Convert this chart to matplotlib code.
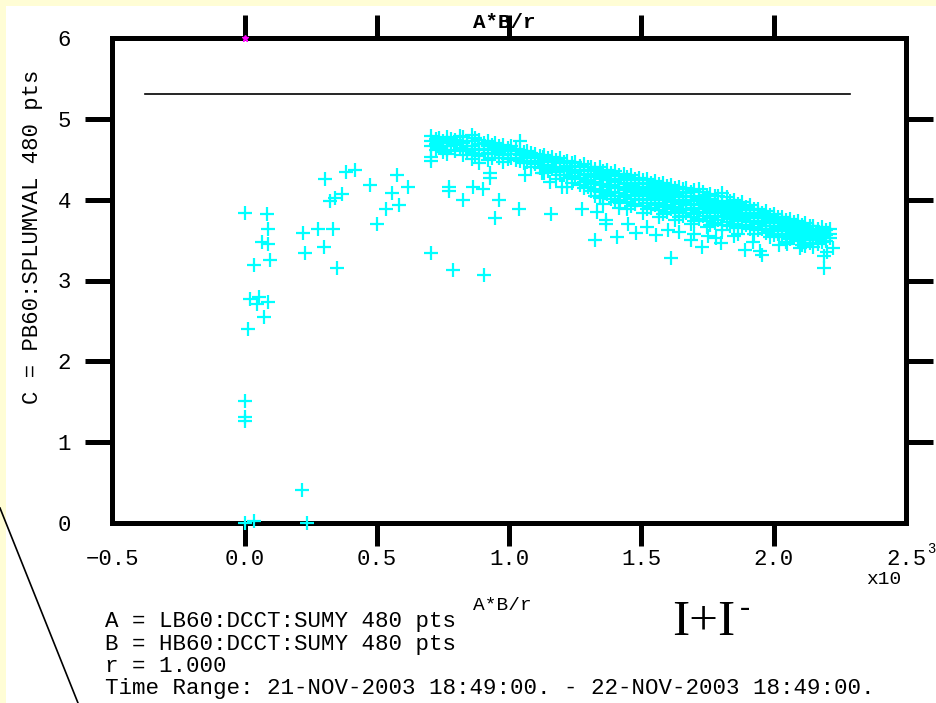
import matplotlib
matplotlib.use("Agg")
import matplotlib.pyplot as plt
from matplotlib.lines import Line2D
from matplotlib.patches import Rectangle

# ---------------- data ----------------
# scattered points (x = A*B/r in units of 1e3, y = C)
low_x = [0.00, 0.083, 0.089, 0.066, 0.089, 0.034, 0.096, 0.020, 0.054, 0.047,
         0.089, 0.074, 0.011, 0.00, 0.00, 0.00, 0.215, 0.00, 0.036, 0.234,
         0.221, 0.278, 0.332, 0.228, 0.299, 0.347, 0.304, 0.381, 0.417, 0.321,
         0.341, 0.368, 0.472, 0.576, 0.618, 0.555, 0.535, 0.583, 0.500, 0.703,
         0.786, 0.905, 0.772, 0.772, 0.826, 0.864, 0.899, 0.927, 0.927, 0.961,
         0.948, 1.037, 1.059, 1.156, 1.153, 1.201, 1.276, 1.330, 1.365, 1.365,
         1.324, 1.408, 1.481, 1.128, 1.122, 1.229, 1.342, 1.418, 1.554, 1.613,
         1.689, 1.727, 1.890, 1.947, 1.957, 2.189, 2.189, 2.224, 2.186, 1.60,
         1.64, 1.75, 1.80, 1.85, 2.05, 2.10, 2.15, 2.20, 1.45, 1.52, 1.70,
         1.78, 1.92, 2.02, 2.12]
low_y = [3.84, 3.82, 3.64, 3.48, 3.45, 3.19, 3.25, 2.77, 2.80, 2.71,
         2.74, 2.55, 2.40, 1.51, 1.31, 1.26, 0.41, 0.00, 0.02, 0.00,
         3.59, 3.64, 3.64, 3.34, 3.41, 3.16, 4.25, 4.34, 4.37, 3.98,
         4.02, 4.07, 4.18, 4.30, 4.16, 4.08, 3.88, 3.94, 3.70, 3.34,
         3.13, 3.07, 4.16, 4.11, 3.99, 4.16, 4.13, 4.33, 4.27, 3.99,
         3.77, 3.89, 4.30, 3.82, 4.22, 4.16, 3.89, 3.85, 3.75, 3.70,
         3.50, 3.54, 3.59, 4.53, 4.33, 4.37, 4.04, 3.96, 3.56, 3.28,
         3.50, 3.42, 3.38, 3.36, 3.32, 3.15, 3.30, 3.40, 3.52, 3.62,
         3.60, 3.55, 3.47, 3.55, 3.45, 3.40, 3.42, 3.35, 3.70, 3.66, 3.58,
         3.52, 3.48, 3.44, 3.43]

# dense band, read column by column: x -> list of C values
band = {
    0.705: [4.79, 4.72, 4.66, 4.53, 4.48],
    0.722: [4.75, 4.69, 4.61],
    0.735: [4.76, 4.70, 4.64],
    0.751: [4.73, 4.67, 4.59],
    0.765: [4.78, 4.71, 4.62, 4.56],
    0.781: [4.75, 4.66, 4.70],
    0.795: [4.74, 4.68, 4.60],
    0.812: [4.79, 4.71, 4.64],
    0.825: [4.77, 4.70, 4.63, 4.55],
    0.842: [4.73, 4.67, 4.60],
    0.858: [4.80, 4.72, 4.66, 4.58, 4.50],
    0.871: [4.76, 4.63, 4.55],
    0.887: [4.74, 4.69, 4.61, 4.54, 4.45],
    0.903: [4.70, 4.63, 4.57],
    0.918: [4.73, 4.66, 4.58, 4.49],
    0.934: [4.68, 4.61, 4.52],
    0.948: [4.70, 4.64, 4.56],
    0.963: [4.66, 4.59, 4.51],
    0.978: [4.68, 4.62, 4.55, 4.47],
    0.994: [4.64, 4.57, 4.50],
    1.008: [4.66, 4.60, 4.52],
    1.024: [4.63, 4.57, 4.49],
    1.040: [4.72, 4.62, 4.55, 4.48],
    1.055: [4.59, 4.51, 4.45],
    1.068: [4.60, 4.54, 4.47],
    1.083: [4.58, 4.48, 4.41],
    1.098: [4.57, 4.51, 4.44],
    1.115: [4.54, 4.47, 4.39],
    1.130: [4.55, 4.49, 4.42, 4.33],
    1.146: [4.51, 4.43, 4.36],
    1.160: [4.53, 4.46, 4.38],
    1.177: [4.49, 4.41, 4.34, 4.25],
    1.192: [4.52, 4.45, 4.37, 4.30],
    1.206: [4.47, 4.39, 4.31],
    1.220: [4.48, 4.42, 4.35, 4.27, 4.16],
    1.236: [4.45, 4.37, 4.29, 4.21],
    1.250: [4.46, 4.40, 4.33, 4.25],
    1.266: [4.42, 4.35, 4.27, 4.18],
    1.282: [4.44, 4.37, 4.30, 4.22, 4.14],
    1.296: [4.40, 4.32, 4.24, 4.16],
    1.310: [4.41, 4.35, 4.28, 4.20, 4.11],
    1.326: [4.38, 4.30, 4.22, 4.13, 4.05],
    1.342: [4.40, 4.33, 4.26, 4.18, 4.10, 4.02],
    1.356: [4.35, 4.28, 4.20, 4.12, 4.04, 3.95],
    1.370: [4.37, 4.31, 4.24, 4.16, 4.07],
    1.386: [4.33, 4.26, 4.18, 4.09, 4.01],
    1.400: [4.35, 4.29, 4.22, 4.14, 4.05, 3.97],
    1.416: [4.31, 4.24, 4.16, 4.08, 3.99, 3.90],
    1.432: [4.32, 4.26, 4.19, 4.12, 4.03],
    1.446: [4.28, 4.21, 4.14, 4.06, 3.97, 3.88],
    1.460: [4.30, 4.24, 4.17, 4.10, 4.01, 3.92],
    1.476: [4.26, 4.19, 4.12, 4.04, 3.95],
    1.490: [4.27, 4.21, 4.15, 4.07, 3.99],
    1.506: [4.24, 4.16, 4.09, 4.01, 3.92, 3.84],
    1.522: [4.25, 4.19, 4.12, 4.05, 3.96, 3.88],
    1.536: [4.21, 4.14, 4.07, 3.99, 3.90],
    1.550: [4.23, 4.17, 4.10, 4.02, 3.93],
    1.566: [4.19, 4.12, 4.04, 3.96, 3.87, 3.79],
    1.580: [4.21, 4.14, 4.07, 4.00, 3.91, 3.82],
    1.596: [4.17, 4.10, 4.02, 3.94, 3.85],
    1.612: [4.18, 4.12, 4.05, 3.97, 3.89],
    1.626: [4.15, 4.07, 3.99, 3.91, 3.83, 3.75],
    1.640: [4.16, 4.10, 4.03, 3.95, 3.86, 3.78],
    1.656: [4.13, 4.05, 3.97, 3.89, 3.80],
    1.670: [4.14, 4.08, 4.00, 3.93, 3.84],
    1.686: [4.10, 4.03, 3.95, 3.87, 3.78, 3.70],
    1.700: [4.12, 4.05, 3.98, 3.90, 3.82, 3.74],
    1.716: [4.13, 4.01, 3.93, 3.85, 3.76],
    1.732: [4.10, 4.03, 3.96, 3.88, 3.80],
    1.746: [4.06, 3.98, 3.91, 3.83, 3.73, 3.66],
    1.760: [4.07, 4.01, 3.94, 3.86, 3.77, 3.69],
    1.776: [4.04, 3.96, 3.88, 3.80, 3.71],
    1.790: [4.05, 3.98, 3.91, 3.83, 3.75],
    1.806: [4.08, 3.94, 3.86, 3.78, 3.69, 3.62],
    1.822: [4.03, 3.96, 3.89, 3.81, 3.72],
    1.836: [3.98, 3.91, 3.84, 3.76, 3.67],
    1.850: [4.00, 3.93, 3.86, 3.78, 3.70],
    1.866: [3.95, 3.88, 3.81, 3.73, 3.65, 3.58],
    1.880: [3.97, 3.90, 3.83, 3.75, 3.67],
    1.896: [3.91, 3.84, 3.77, 3.69],
    1.912: [3.93, 3.87, 3.80, 3.72, 3.64],
    1.926: [3.88, 3.81, 3.74, 3.66, 3.57],
    1.940: [3.89, 3.83, 3.77, 3.70, 3.62],
    1.956: [3.84, 3.78, 3.71, 3.64],
    1.970: [3.86, 3.80, 3.74, 3.67, 3.59],
    1.986: [3.81, 3.75, 3.68, 3.61, 3.54],
    2.002: [3.82, 3.77, 3.71, 3.64, 3.56],
    2.016: [3.78, 3.72, 3.65, 3.58],
    2.030: [3.79, 3.74, 3.68, 3.61, 3.54],
    2.046: [3.75, 3.69, 3.62, 3.55, 3.48],
    2.060: [3.76, 3.71, 3.65, 3.58, 3.51],
    2.076: [3.72, 3.66, 3.60, 3.53],
    2.092: [3.73, 3.68, 3.62, 3.55, 3.49],
    2.106: [3.69, 3.63, 3.57, 3.50, 3.44],
    2.120: [3.71, 3.65, 3.59, 3.53, 3.46],
    2.136: [3.67, 3.60, 3.54, 3.47],
    2.150: [3.68, 3.62, 3.56, 3.50],
    2.166: [3.64, 3.58, 3.51, 3.45],
    2.182: [3.66, 3.60, 3.54, 3.48],
    2.196: [3.62, 3.56, 3.49],
    2.212: [3.64, 3.58, 3.52],
}

ref_line_x = [-0.377, 2.287]
ref_line_y = [5.31, 5.31]
marker_pt = (0.0, 6.0)

x_ticks = [-0.5, 0.0, 0.5, 1.0, 1.5, 2.0, 2.5]
x_labels = ["\u22120.5", "0.0", "0.5", "1.0", "1.5", "2.0", "2.5"]
x_marks = [0.0, 0.5, 1.0, 1.5, 2.0]
y_ticks = [0, 1, 2, 3, 4, 5, 6]
y_labels = ["0", "1", "2", "3", "4", "5", "6"]
y_marks = [1, 2, 3, 4, 5]

info_lines = ["A = LB60:DCCT:SUMY 480 pts",
              "B = HB60:DCCT:SUMY 480 pts",
              "r = 1.000",
              "Time Range: 21-NOV-2003 18:49:00. - 22-NOV-2003 18:49:00."]

# ---------------- figure ----------------
W, H = 937, 703
fig = plt.figure(figsize=(W / 100, H / 100), dpi=100)
fig.patch.set_facecolor("white")
mono = "Liberation Mono"

def fx(px):
    return px / W

def fy(py):
    return 1 - py / H

# yellow slide border (top and left strips)
yellow = "#FFFDD5"
fig.add_artist(Rectangle((0, fy(6)), 1, 6 / H, transform=fig.transFigure,
                         facecolor=yellow, edgecolor="none", zorder=0))
fig.add_artist(Rectangle((0, 0), 6 / W, 1, transform=fig.transFigure,
                         facecolor=yellow, edgecolor="none", zorder=0))
# diagonal callout line
fig.add_artist(Line2D([fx(0), fx(78)], [fy(508), fy(703)], transform=fig.transFigure,
                      color="black", lw=1.2))

ax = fig.add_axes([fx(112.5), fy(523), fx(906) - fx(112.5), fy(38) - fy(523)])
ax.set_xlim(-0.5, 2.5)
ax.set_ylim(0, 6)

bx, by = [], []
for xv, ys in band.items():
    for yv in ys:
        bx.append(xv)
        by.append(yv)

kw = dict(linestyle="none", marker="+", color="#00FFFF", markersize=9.5,
          markeredgewidth=1.6, clip_on=False, zorder=3)
ax.plot(bx, by, **kw)
ax.plot(low_x, low_y, **kw)
ax.plot([marker_pt[0]], [marker_pt[1]], linestyle="none", marker="*",
        color="magenta", markersize=5, clip_on=False, zorder=4)
ax.plot(ref_line_x, ref_line_y, color="black", lw=1.2, zorder=2)

for sp in ax.spines.values():
    sp.set_linewidth(3.6)

ax.xaxis.remove_overlapping_locs = False
ax.yaxis.remove_overlapping_locs = False
ax.set_xticks(x_ticks)
ax.set_xticklabels(x_labels)
ax.set_yticks(y_ticks)
ax.set_yticklabels(y_labels)
ax.set_xticks(x_marks, minor=True)
ax.set_yticks(y_marks, minor=True)
ax.tick_params(which="major", length=0, labelfontfamily=mono, labelsize=16)
ax.tick_params(axis="x", which="major", pad=19)
ax.tick_params(axis="y", which="major", pad=30)
ax.tick_params(which="minor", direction="out", width=3.6, top=True, right=True,
               bottom=True, left=True)
ax.tick_params(axis="x", which="minor", length=16.5)
ax.tick_params(axis="y", which="minor", length=19.5)

# y label
fig.text(fx(33), fy(237), "C = PB60:SPLUMVAL 480 pts", rotation=90,
         ha="center", va="center", family=mono, fontsize=16)

# top title and x label
fig.text(fx(473), fy(23), "A*B/r", ha="left", va="center", family=mono,
         fontsize=15, fontweight="bold")
fig.text(fx(473), fy(605), "A*B/r", ha="left", va="center", family=mono,
         fontsize=14)
# exponent
fig.text(fx(866), fy(579), "x10", ha="left", va="center", family=mono, fontsize=14)
fig.text(fx(927), fy(549), "3", ha="left", va="center", family=mono, fontsize=10)

# I+I-
fig.text(fx(672), fy(623), "I+I", ha="left", va="center",
         family="Liberation Serif", fontsize=37)
fig.text(fx(740), fy(608), "-", ha="left", va="center",
         family="Liberation Serif", fontsize=22)

# info lines
for i, line in enumerate(info_lines):
    fig.text(fx(105), fy(622 + 22.3 * i), line, ha="left", va="center",
             family=mono, fontsize=16.2)

fig.savefig("out.png", dpi=100, facecolor="white")
